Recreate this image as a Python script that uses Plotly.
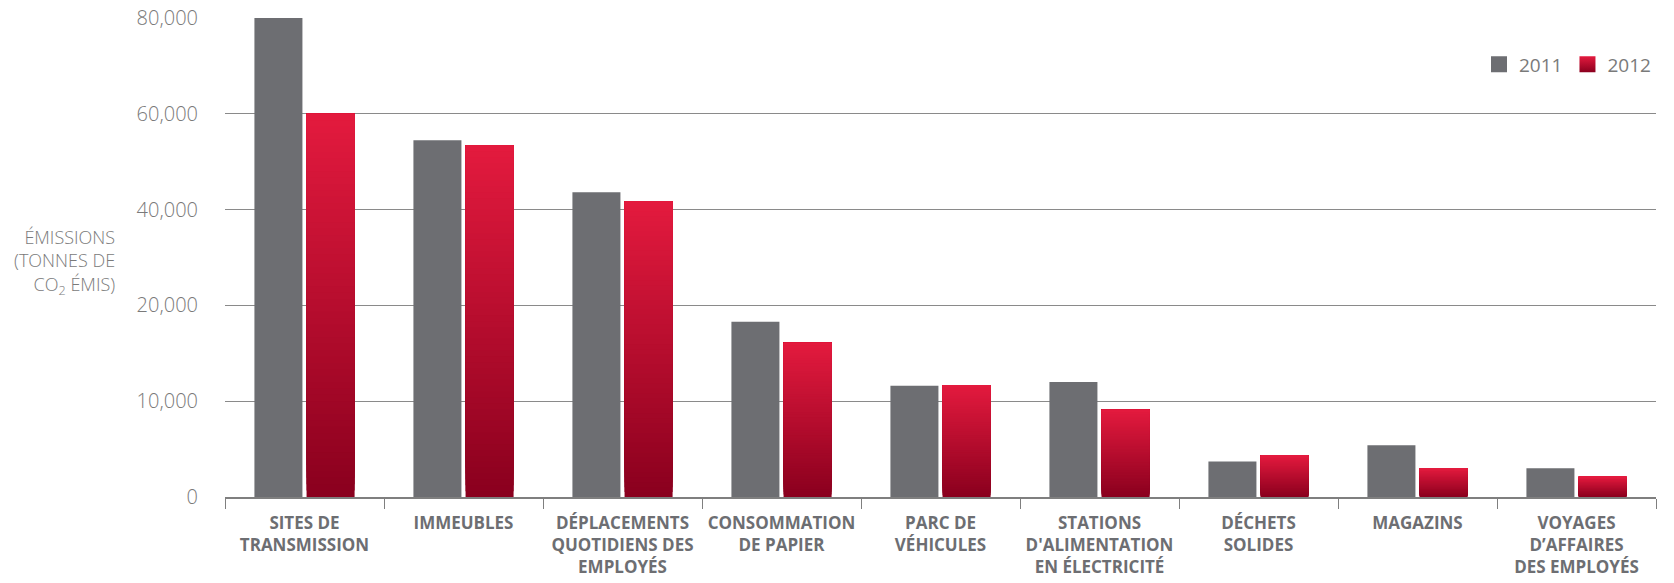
import plotly.graph_objects as go
import numpy as np

categories = [
    "SITES DE<br>TRANSMISSION",
    "IMMEUBLES",
    "DÉPLACEMENTS<br>QUOTIDIENS DES<br>EMPLOYÉS",
    "CONSOMMATION<br>DE PAPIER",
    "PARC DE<br>VÉHICULES",
    "STATIONS<br>D'ALIMENTATION<br>EN ÉLECTRICITÉ",
    "DÉCHETS<br>SOLIDES",
    "MAGAZINS",
    "VOYAGES<br>D’AFFAIRES<br>DES EMPLOYÉS",
]
values_2011 = [80000, 54500, 43600, 18300, 11600, 12000, 3700, 5400, 3000]
values_2012 = [60000, 53400, 41700, 16100, 11700, 9100, 4300, 3000, 2100]
tick_values = [0, 10000, 20000, 40000, 60000, 80000]
tick_labels = ["0", "10,000", "20,000", "40,000", "60,000", "80,000"]

# piecewise axis: equal spacing between the listed tick values
def to_axis(v):
    return float(np.interp(v, tick_values, np.arange(len(tick_values))))

h2011 = [to_axis(v) for v in values_2011]
h2012 = [to_axis(v) for v in values_2012]

GREY = "#6d6e72"
TOP = np.array([0xe3, 0x1a, 0x3e])
BOT = np.array([0x8a, 0x00, 0x1e])

fig = go.Figure()
fig.add_trace(go.Bar(x=categories, y=h2011, marker=dict(color=GREY, line=dict(width=0)),
                     offset=-0.315, width=0.302, showlegend=False, name="2011",
                     customdata=values_2011, hovertemplate="%{customdata:,}<extra>2011</extra>"))

N = 60
for k in range(N):
    f = k / (N - 1)
    c = BOT + (TOP - BOT) * f
    col = "rgb(%d,%d,%d)" % tuple(int(round(x)) for x in c)
    base = [h * k / N for h in h2012]
    ys = [h - b for h, b in zip(h2012, base)]
    fig.add_trace(go.Bar(x=categories, y=ys, base=base,
                         marker=dict(color=col, line=dict(width=0)),
                         offset=0.013, width=0.302, showlegend=False, name="2012",
                         customdata=values_2012, hovertemplate="%{customdata:,}<extra>2012</extra>"))

# legend entries
fig.add_trace(go.Scatter(x=[None], y=[None], mode="markers", name="2011",
                         marker=dict(symbol="square", size=20, color=GREY)))
fig.add_trace(go.Scatter(x=[None], y=[None], mode="markers", name="2012",
                         marker=dict(symbol="square", size=20, color="#e31a3e",
                                     gradient=dict(type="vertical", color="#8a001e"))))

FONT = "Open Sans, Noto Sans, sans-serif"
fig.update_layout(
    width=1674, height=583,
    margin=dict(l=225, r=18, t=18, b=86),
    paper_bgcolor="white", plot_bgcolor="white",
    barmode="overlay",
    font=dict(family=FONT, color="#7a7a7a"),
    legend=dict(orientation="h", x=1.0, xanchor="right", y=0.903, yanchor="middle",
                font=dict(size=19, color="#7a7a7a", family=FONT),
                itemwidth=30, bgcolor="rgba(0,0,0,0)", traceorder="normal"),
    xaxis=dict(type="category", showline=True, linecolor="#7f7f7f", linewidth=1.5,
               ticks="outside", tickson="boundaries", ticklen=10, tickcolor="#7f7f7f",
               tickwidth=1.3, showgrid=False, automargin=False, ticklabelstandoff=10,
               tickfont=dict(size=17, color="#6d6e72", family=FONT, weight="bold"),
               range=[-0.5, 8.5]),
    yaxis=dict(range=[0, 5], tickvals=list(range(len(tick_values))), ticktext=tick_labels,
               showgrid=True, gridcolor="#8a8a8a", gridwidth=1.3, zeroline=False,
               ticks="", ticklabelstandoff=26, automargin=False,
               tickfont=dict(size=20, color="#7a7a7a", family=FONT, weight=300)),
    annotations=[dict(text="ÉMISSIONS<br>(TONNES DE<br>CO<sub>2</sub> ÉMIS)",
                      xref="paper", yref="paper", x=(117 - 225) / 1431, y=0.49,
                      xanchor="right", yanchor="middle", align="right", showarrow=False,
                      font=dict(size=18, color="#7a7a7a", family=FONT, weight=300))],
)

fig.write_html("out.html")
